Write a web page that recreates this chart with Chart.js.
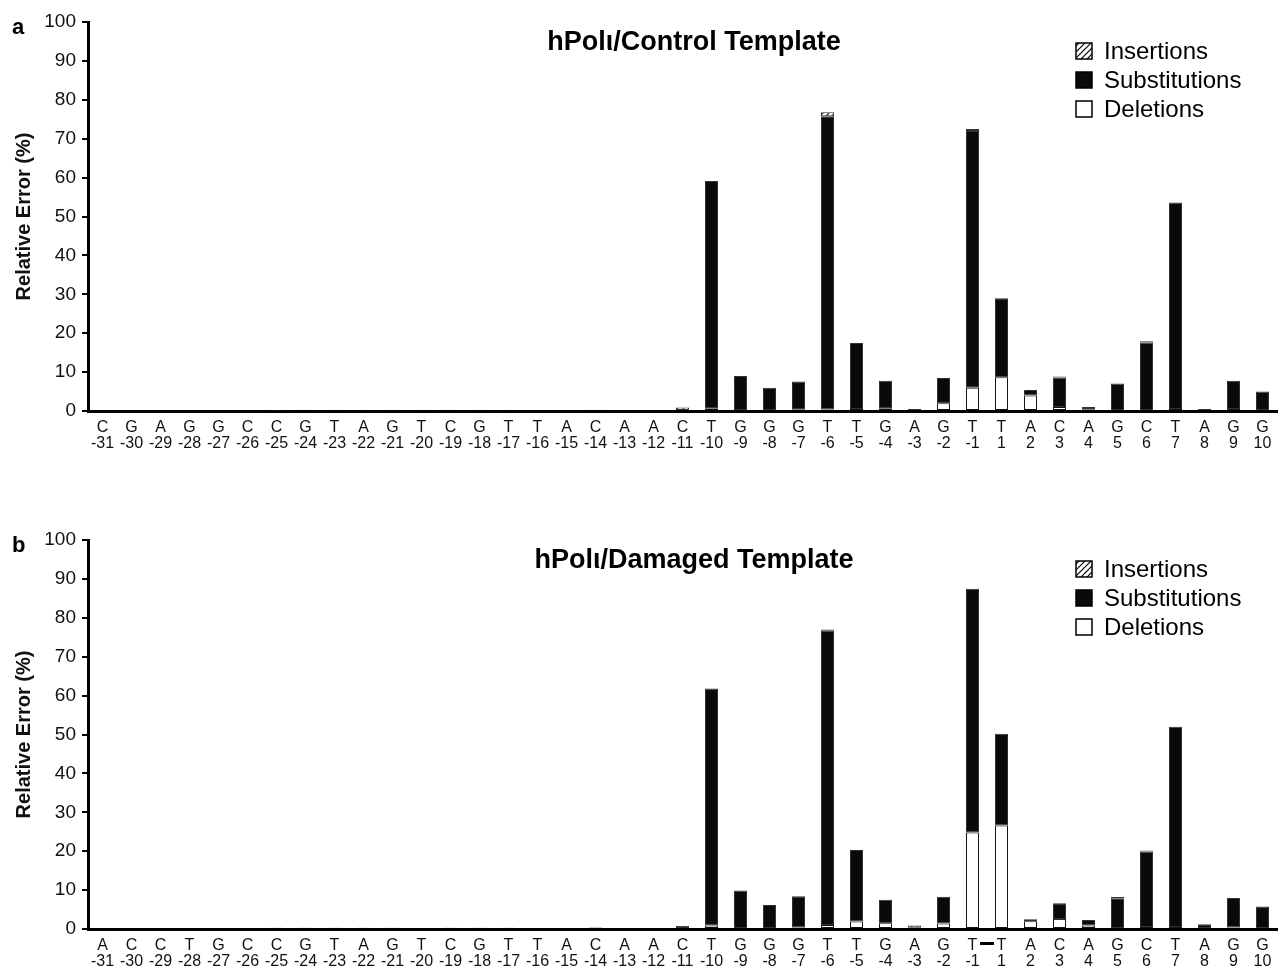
<!DOCTYPE html>
<html>
<head>
<meta charset="utf-8">
<script src="https://cdn.jsdelivr.net/npm/chart.js@4.4.1/dist/chart.umd.min.js"></script>
<style>
  body { margin: 0; background: #fff; }
  .panel { position: absolute; left: 0; width: 1280px; height: 460px; }
</style>
</head>
<body>
<div class="panel" style="top:0"><canvas id="chartControl"></canvas></div>
<div class="panel" style="top:518px"><canvas id="chartDamaged"></canvas></div>
<script>
// template positions
var positions = [-31, -30, -29, -28, -27, -26, -25, -24, -23, -22, -21, -20, -19, -18, -17, -16,
  -15, -14, -13, -12, -11, -10, -9, -8, -7, -6, -5, -4, -3, -2, -1, 1, 2, 3, 4, 5, 6, 7, 8, 9, 10];

var basesControl = ['C', 'G', 'A', 'G', 'G', 'C', 'C', 'G', 'T', 'A', 'G', 'T', 'C', 'G', 'T', 'T',
  'A', 'C', 'A', 'A', 'C', 'T', 'G', 'G', 'G', 'T', 'T', 'G', 'A', 'G', 'T', 'T', 'A', 'C', 'A', 'G', 'C', 'T', 'A', 'G', 'G'];
var basesDamaged = ['A', 'C', 'C', 'T', 'G', 'C', 'C', 'G', 'T', 'A', 'G', 'T', 'C', 'G', 'T', 'T',
  'A', 'C', 'A', 'A', 'C', 'T', 'G', 'G', 'G', 'T', 'T', 'G', 'A', 'G', 'T', 'T', 'A', 'C', 'A', 'G', 'C', 'T', 'A', 'G', 'G'];

// hPol iota / control template (relative error, %)
var delControl = [0, 0, 0, 0, 0, 0, 0, 0, 0, 0, 0, 0, 0, 0, 0, 0,
  0, 0, 0, 0, 0, 0.6, 0, 0, 0.3, 0.4, 0.5, 0.6, 0, 2.0, 6.0, 8.7, 4.0, 1.0, 0.3, 0, 0, 0.5, 0, 0.5, 0];
var subControl = [0, 0, 0, 0, 0, 0, 0.1, 0.3, 0.2, 0.2, 0.2, 0.2, 0.3, 0.2, 0.2, 0,
  0, 0.3, 0, 0, 0, 58.5, 9.0, 6.0, 7.3, 75.4, 17.0, 7.2, 0.5, 6.5, 66.0, 20.3, 1.4, 7.6, 0.7, 7.1, 17.6, 53.1, 0.5, 7.3, 5.0];
var insControl = [0, 0, 0, 0, 0, 0, 0, 0, 0, 0, 0, 0, 0, 0, 0, 0,
  0, 0, 0, 0, 0.9, 0, 0, 0, 0, 1.0, 0, 0, 0, 0, 0.5, 0, 0, 0.3, 0, 0, 0.3, 0, 0, 0, 0];

// hPol iota / damaged template
var delDamaged = [0, 0, 0, 0, 0, 0, 0, 0, 0, 0, 0, 0, 0, 0, 0, 0,
  0, 0, 0, 0, 0, 0.9, 0, 0, 0.4, 1.0, 1.9, 1.5, 0, 1.4, 24.8, 26.6, 2.0, 2.6, 0.9, 0, 0.5, 0.5, 0, 0.4, 0];
var subDamaged = [0, 0, 0, 0, 0, 0, 0.3, 0.3, 0.3, 0.3, 0.3, 0, 0.3, 0.3, 0.3, 0,
  0, 0.4, 0, 0, 0, 60.9, 9.9, 6.2, 8.0, 75.7, 18.4, 6.0, 0.3, 6.9, 62.7, 23.6, 0.5, 4.0, 1.4, 7.9, 19.4, 51.5, 1.2, 7.6, 5.8];
var insDamaged = [0, 0, 0, 0, 0, 0, 0, 0, 0, 0, 0, 0, 0, 0, 0, 0,
  0, 0, 0, 0, 0.8, 0, 0, 0, 0, 0.3, 0, 0, 0.6, 0, 0, 0, 0, 0, 0, 0.3, 0.3, 0, 0, 0, 0];

var yTicks = [0, 10, 20, 30, 40, 50, 60, 70, 80, 90, 100];

var FONT = '"Liberation Sans", Arial, Helvetica, sans-serif';

function hatch(ctx) {
  var c = document.createElement('canvas');
  c.width = 6; c.height = 6;
  var p = c.getContext('2d');
  p.fillStyle = '#fff';
  p.fillRect(0, 0, 6, 6);
  p.strokeStyle = '#000';
  p.lineWidth = 1.2;
  p.beginPath();
  p.moveTo(0, 6); p.lineTo(6, 0);
  p.moveTo(-1, 1); p.lineTo(1, -1);
  p.moveTo(5, 7); p.lineTo(7, 5);
  p.stroke();
  return ctx.createPattern(c, 'repeat');
}

function noZero(arr) {
  return arr.map(function (v) { return v === 0 ? null : v; });
}

// title, panel letter, legend, T-T dimer dash
var decorations = {
  id: 'decorations',
  afterDraw: function (chart, args, opts) {
    var ctx = chart.ctx;
    ctx.save();
    ctx.fillStyle = '#000';
    ctx.textBaseline = 'alphabetic';
    ctx.font = 'bold 22px ' + FONT;
    ctx.textAlign = 'left';
    ctx.fillText(opts.letter, 12, 34);

    ctx.font = 'bold 27px ' + FONT;
    ctx.textAlign = 'center';
    ctx.fillText(opts.title, opts.titleX, 50);

    var items = [['Insertions', opts.hatch], ['Substitutions', '#0a0a0a'], ['Deletions', '#fff']];
    ctx.font = '24px ' + FONT;
    ctx.textAlign = 'left';
    items.forEach(function (it, i) {
      var y = opts.legendY + i * 29;
      ctx.fillStyle = it[1];
      ctx.fillRect(opts.legendX, y - 8, 16, 16);
      ctx.strokeStyle = '#000';
      ctx.lineWidth = 1.5;
      ctx.strokeRect(opts.legendX, y - 8, 16, 16);
      ctx.fillStyle = '#000';
      ctx.textBaseline = 'middle';
      ctx.fillText(it[0], opts.legendX + 28, y + 1);
    });

    if (opts.dimer) {
      var xs = chart.scales.x;
      var a = xs.getPixelForValue(positions.indexOf(-1));
      var b = xs.getPixelForValue(positions.indexOf(1));
      ctx.fillStyle = '#000';
      ctx.fillRect((a + b) / 2 - 7, chart.chartArea.bottom + 13, 14, 3);
    }
    ctx.restore();
  }
};

function makeChart(id, bases, del, sub, ins, title, letter, dimer) {
  var ctx = document.getElementById(id).getContext('2d');
  var hatchFill = hatch(ctx);
  var labels = bases.map(function (b, i) { return [b, String(positions[i])]; });
  return new Chart(ctx, {
    type: 'bar',
    data: {
      labels: labels,
      datasets: [{
        label: 'Deletions',
        data: noZero(del),
        backgroundColor: '#ffffff',
        borderColor: '#111',
        borderWidth: 1,
        borderSkipped: false
      }, {
        label: 'Substitutions',
        data: noZero(sub),
        backgroundColor: '#0a0a0a',
        borderColor: '#333',
        borderWidth: 1,
        borderSkipped: false
      }, {
        label: 'Insertions',
        data: noZero(ins),
        backgroundColor: hatchFill,
        borderColor: '#333',
        borderWidth: 1,
        borderSkipped: false
      }]
    },
    options: {
      responsive: true,
      maintainAspectRatio: false,
      animation: false,
      layout: { padding: { top: 22, right: 3, left: 0, bottom: 0 } },
      datasets: { bar: { barPercentage: 0.45, categoryPercentage: 1 } },
      scales: {
        x: {
          stacked: true,
          afterFit: function (s) { s.height = 49; },
          grid: { display: false },
          border: { color: '#000', width: 3 },
          ticks: {
            color: '#111',
            font: { family: FONT, size: 16, lineHeight: 1.0 },
            padding: 1,
            maxRotation: 0,
            autoSkip: false
          }
        },
        y: {
          stacked: true,
          min: 0,
          max: 100,
          afterFit: function (s) { s.width = 88; },
          afterBuildTicks: function (s) { s.ticks = yTicks.map(function (v) { return { value: v }; }); },
          grid: { drawOnChartArea: false, color: '#000', lineWidth: 2, tickLength: 6 },
          border: { color: '#000', width: 3 },
          ticks: {
            color: '#111',
            font: { family: FONT, size: 19 },
            padding: 6
          },
          title: {
            display: true,
            text: 'Relative Error (%)',
            color: '#111',
            font: { family: FONT, size: 20, weight: 'bold' },
            padding: { top: 12, bottom: 0 }
          }
        }
      },
      plugins: {
        legend: { display: false },
        tooltip: { enabled: false },
        decorations: {
          letter: letter,
          title: title,
          titleX: 694,
          legendX: 1076,
          legendY: 51,
          hatch: hatchFill,
          dimer: dimer
        }
      }
    },
    plugins: [decorations]
  });
}

makeChart('chartControl', basesControl, delControl, subControl, insControl, 'hPol\u03b9/Control Template', 'a', false);
makeChart('chartDamaged', basesDamaged, delDamaged, subDamaged, insDamaged, 'hPol\u03b9/Damaged Template', 'b', true);
</script>
</body>
</html>
